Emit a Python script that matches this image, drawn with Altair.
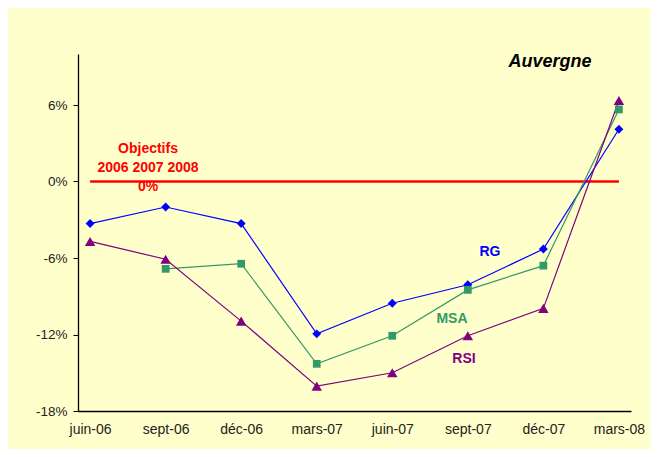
import altair as alt
import pandas as pd

months = ["juin-06", "sept-06", "déc-06", "mars-07", "juin-07", "sept-07", "déc-07", "mars-08"]
rg = [-3.3, -2.0, -3.3, -11.95, -9.55, -8.1, -5.3, 4.1]
msa = [None, -6.85, -6.45, -14.3, -12.1, -8.5, -6.6, 5.65]
rsi = [-4.7, -6.1, -10.95, -16.05, -15.0, -12.1, -9.95, 6.35]
y_ticks = [-18, -12, -6, 0, 6]
objective = [0, 0]
objective_months = ["juin-06", "mars-08"]

series_names = ["RG", "MSA", "RSI"]
series_colors = ["#0000FF", "#339966", "#800080"]
series_shapes = ["diamond", "square", "triangle-up"]
series_sizes = [80, 60, 110]

rows = []
for name, vals in zip(series_names, [rg, msa, rsi]):
    for m, v in zip(months, vals):
        if v is not None:
            rows.append({"mois": m, "valeur": v, "serie": name})
df = pd.DataFrame(rows)
obj_df = pd.DataFrame({"mois": objective_months, "valeur": objective})

x_enc = alt.X("mois:N", sort=months,
              scale=alt.Scale(type="point", domain=months, padding=0.16),
              axis=alt.Axis(title=None, labelAngle=0, ticks=False, labelPadding=11,
                            labelFontSize=14, labelColor="#222222", labelFont="Liberation Sans",
                            domainColor="#000000", domainWidth=1.3, grid=False))
y_enc = alt.Y("valeur:Q",
              scale=alt.Scale(domain=[-18, 10], nice=False, zero=False),
              axis=alt.Axis(title=None, values=y_ticks, labelExpr="datum.value + '%'",
                            tickSize=5, tickColor="#000000", labelPadding=6,
                            labelFontSize=13.5, labelColor="#222222", labelFont="Liberation Sans",
                            domainColor="#000000", domainWidth=1.3, grid=False))
color = alt.Color("serie:N", scale=alt.Scale(domain=series_names, range=series_colors), legend=None)
shape = alt.Shape("serie:N", scale=alt.Scale(domain=series_names, range=series_shapes), legend=None)
size = alt.Size("serie:N", scale=alt.Scale(type="ordinal", domain=series_names, range=series_sizes), legend=None)

base = alt.Chart(df)
lines = base.mark_line(strokeWidth=1.2).encode(x=x_enc, y=y_enc, color=color, detail="serie:N")
points = base.mark_point(filled=True, opacity=1).encode(x=x_enc, y=y_enc, color=color, shape=shape, size=size)

obj_line = alt.Chart(obj_df).mark_line(color="#FF0000", strokeWidth=2.5).encode(x=x_enc, y=y_enc)

def label(txt, x, y, col, size=14, style="normal"):
    return alt.Chart(pd.DataFrame({"t": [txt]})).mark_text(
        fontSize=size, fontWeight="bold", fontStyle=style, color=col,
        font="Liberation Sans", align="center", baseline="middle", lineBreak="\n", lineHeight=19
    ).encode(text="t:N", x=alt.value(x), y=alt.value(y))

texts = [
    label("Objectifs\n2006 2007 2008\n0%", 70, 95, "#FF0000"),
    label("Auvergne", 472, 8, "#000000", size=18, style="italic"),
    label("RG", 412, 198, "#0000FF"),
    label("MSA", 374, 265, "#339966"),
    label("RSI", 386, 305, "#800080"),
]

chart = alt.layer(obj_line, lines, points, *texts).properties(
    width=553, height=357,
    autosize=alt.AutoSizeParams(type="none"),
    padding={"left": 70, "top": 46, "right": 19, "bottom": 38},
    background="#FFFFCC",
).configure_view(stroke=None)

chart.save("out.html", embed_options={"renderer": "svg", "actions": False})
